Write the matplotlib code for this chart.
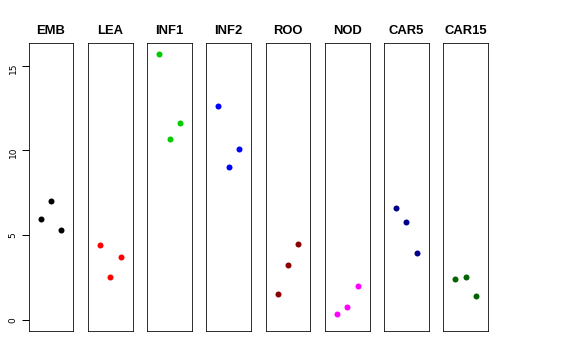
import matplotlib
matplotlib.use("Agg")
import matplotlib.pyplot as plt

# Groups and their three values each
groups = ["EMB", "LEA", "INF1", "INF2", "ROO", "NOD", "CAR5", "CAR15"]
emb = [5.94, 7.0, 5.31]
lea = [4.45, 2.53, 3.74]
inf1 = [15.68, 10.68, 11.59]
inf2 = [12.59, 9.0, 10.1]
roo = [1.57, 3.25, 4.51]
nod = [0.39, 0.8, 2.04]
car5 = [6.62, 5.78, 3.94]
car15 = [2.41, 2.55, 1.43]
values = [emb, lea, inf1, inf2, roo, nod, car5, car15]
colors = ["black", "#FF0000", "#00CD00", "#0000FF", "#8B0000", "#FF00FF", "#00008B", "#006400"]
reps = [1, 2, 3]
yticks = [0, 5, 10, 15]

W, H = 576, 360
fig = plt.figure(figsize=(W / 72, H / 72), dpi=72)

ymax = max(max(v) for v in values)
pad = 0.04 * ymax
left0, step, pw = 28.7, 59.23, 44.7
top, bottom = 43.3, 331.0
tick_len = 7  # px

for i, (name, vals, col) in enumerate(zip(groups, values, colors)):
    x0 = left0 + i * step
    ax = fig.add_axes([x0 / W, (H - bottom) / H, pw / W, (bottom - top) / H])
    ax.plot(reps, vals, "o", color=col, markersize=6, markeredgewidth=0)
    ax.set_xlim(-0.16, 4.16)
    ax.set_ylim(-pad, ymax + pad)
    ax.set_xticks([])
    ax.set_title(name, fontsize=13, fontweight="bold", pad=9, fontfamily="Liberation Sans")
    if i == 0:
        ax.set_yticks(yticks)
        ax.tick_params(axis="y", length=0, pad=4 + tick_len, labelsize=9, labelrotation=90)
        # outward tick marks drawn as plain line segments (x in axes units, y in data units)
        tr = ax.get_yaxis_transform()
        for t in yticks:
            ax.plot([-tick_len / pw, 0], [t, t], color="black", lw=1,
                    transform=tr, clip_on=False, solid_capstyle="butt")
    else:
        ax.set_yticks([])

fig.savefig("out.png", dpi=72)
